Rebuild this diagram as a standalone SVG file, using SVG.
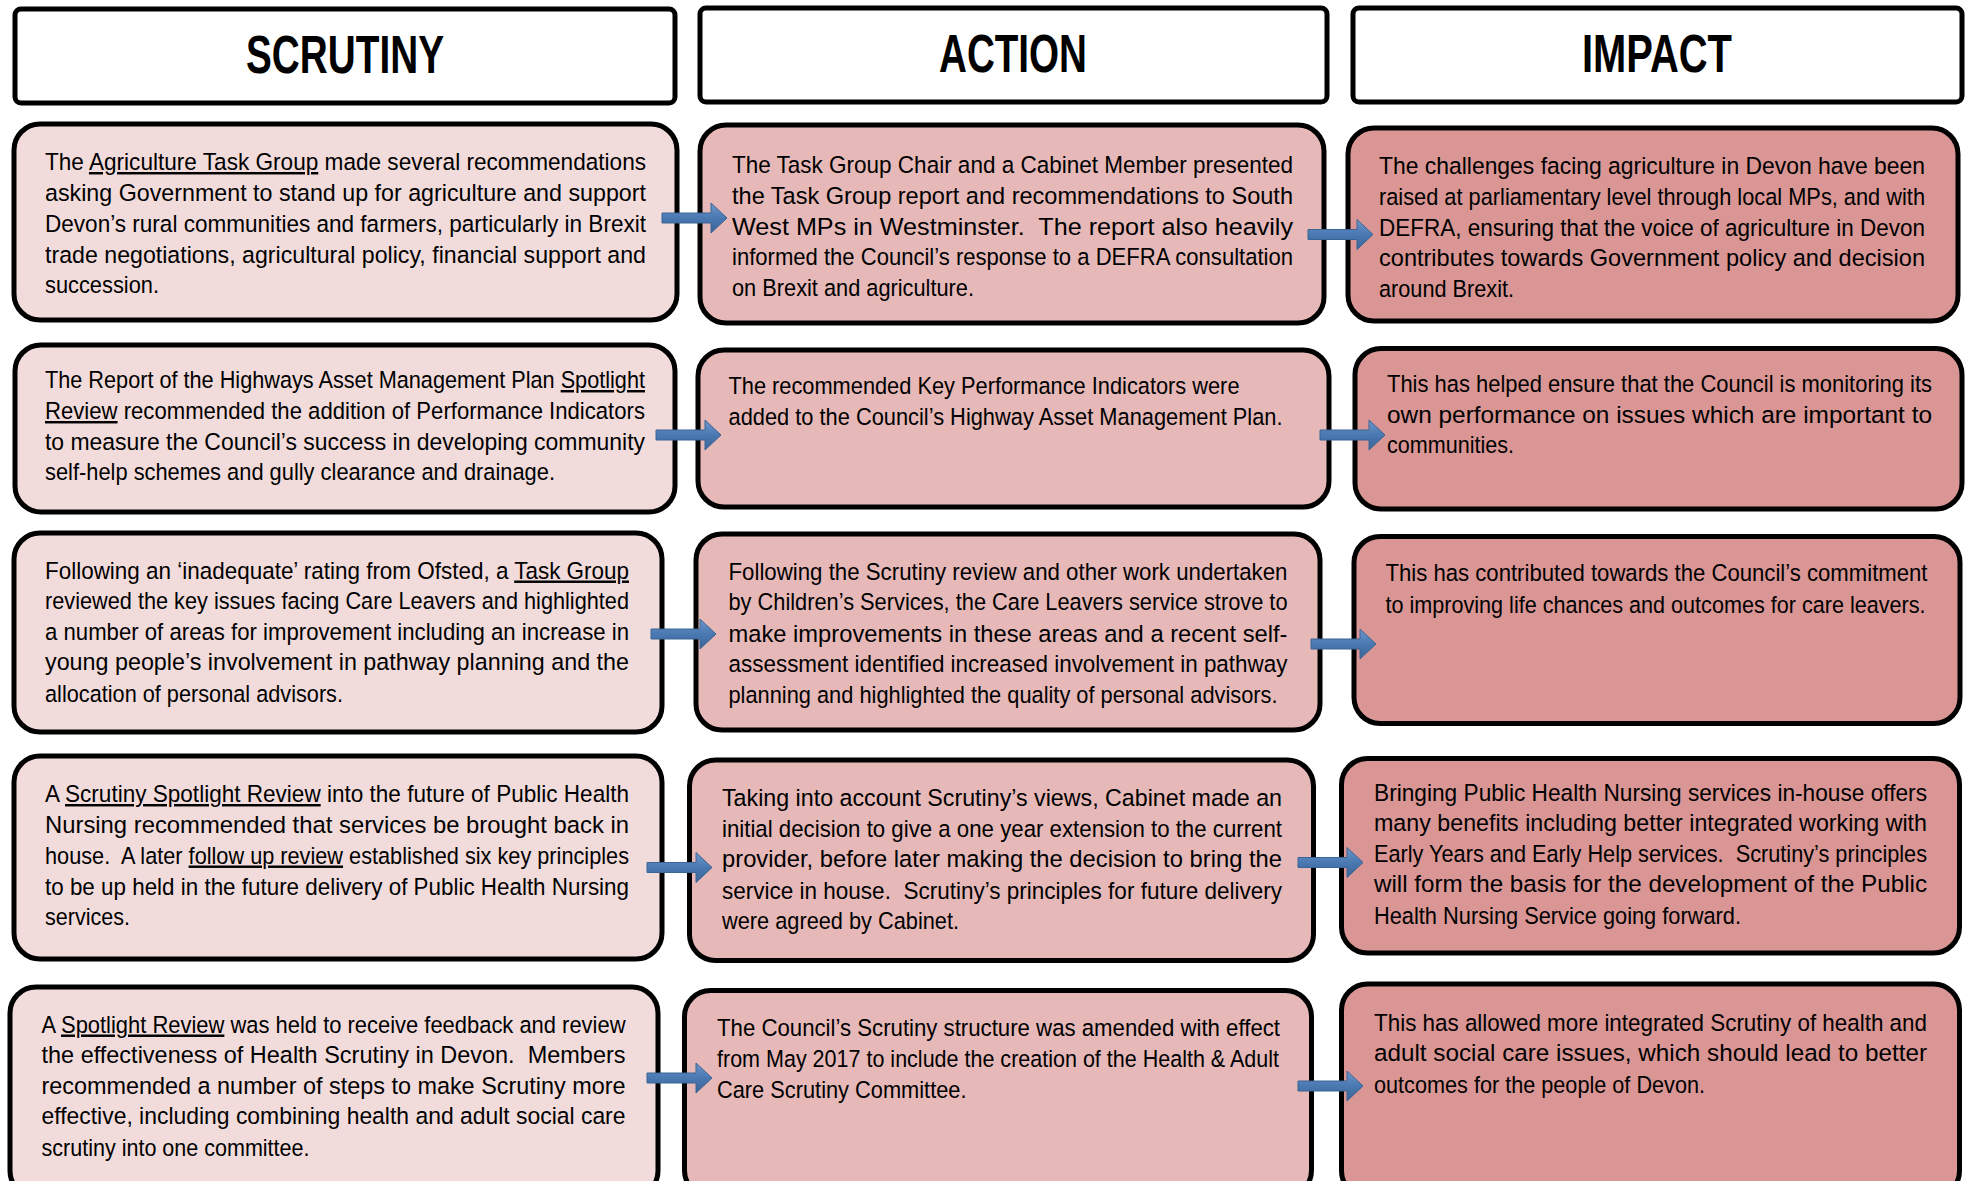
<svg xmlns="http://www.w3.org/2000/svg" width="1966" height="1181" viewBox="0 0 1966 1181">
<style>
.hdr{fill:#ffffff;stroke:#000;stroke-width:5}
.ht{font-family:"Liberation Sans Narrow","Arial Narrow","Liberation Sans",Arial,sans-serif;font-weight:bold;font-size:53px;fill:#000;text-anchor:middle}
.box{stroke:#000;stroke-width:5}
.c1{fill:#f2dcdb}
.c2{fill:#e6b9b8}
.c3{fill:#d99694}
.t{font-family:"Liberation Sans Narrow","Arial Narrow","Liberation Sans",Arial,sans-serif;font-size:24.5px;fill:#000}
.u{text-decoration:underline}
.arr{fill:url(#ag);stroke:#3a6494;stroke-width:1}
</style>
<defs>
<linearGradient id="ag" x1="0" y1="0" x2="0" y2="1">
<stop offset="0" stop-color="#6f97cc"/>
<stop offset="0.5" stop-color="#4a78b1"/>
<stop offset="1" stop-color="#3b6598"/>
</linearGradient>
<path id="arrow" d="M0,-5 H49 V-15 L65,0 L49,15 V5 H0 Z"/>
</defs>

<g id="header-scrutiny">
<rect class="hdr" x="15" y="9" width="660" height="94" rx="6"/>
<text class="ht" x="345" y="72.5" textLength="198" lengthAdjust="spacingAndGlyphs">SCRUTINY</text>
</g>
<g id="header-action">
<rect class="hdr" x="700" y="8" width="627" height="94" rx="6"/>
<text class="ht" x="1013" y="71.5" textLength="148" lengthAdjust="spacingAndGlyphs">ACTION</text>
</g>
<g id="header-impact">
<rect class="hdr" x="1353" y="8" width="609" height="94" rx="6"/>
<text class="ht" x="1657" y="71.5" textLength="150" lengthAdjust="spacingAndGlyphs">IMPACT</text>
</g>

<!-- Row 1 -->
<g id="scrutiny-1">
<rect class="box c1" x="14" y="124" width="663" height="196" rx="26"/>
<text class="t" x="45" y="170" textLength="601" lengthAdjust="spacingAndGlyphs">The <tspan class="u">Agriculture Task Group</tspan> made several recommendations</text>
<text class="t" x="45" y="201" textLength="601" lengthAdjust="spacingAndGlyphs">asking Government to stand up for agriculture and support</text>
<text class="t" x="45" y="232" textLength="601" lengthAdjust="spacingAndGlyphs">Devon’s rural communities and farmers, particularly in Brexit</text>
<text class="t" x="45" y="262.5" textLength="601" lengthAdjust="spacingAndGlyphs">trade negotiations, agricultural policy, financial support and</text>
<text class="t" x="45" y="293" textLength="114" lengthAdjust="spacingAndGlyphs">succession.</text>
</g>
<g id="action-1">
<rect class="box c2" x="700" y="125" width="624" height="198" rx="26"/>
<text class="t" x="732" y="173" textLength="561" lengthAdjust="spacingAndGlyphs">The Task Group Chair and a Cabinet Member presented</text>
<text class="t" x="732" y="203.5" textLength="561" lengthAdjust="spacingAndGlyphs">the Task Group report and recommendations to South</text>
<text class="t" x="732" y="234.5" textLength="561" lengthAdjust="spacingAndGlyphs">West MPs in Westminster.&#160; The report also heavily</text>
<text class="t" x="732" y="265" textLength="561" lengthAdjust="spacingAndGlyphs">informed the Council’s response to a DEFRA consultation</text>
<text class="t" x="732" y="295.5" textLength="242" lengthAdjust="spacingAndGlyphs">on Brexit and agriculture.</text>
</g>
<g id="impact-1">
<rect class="box c3" x="1348" y="128" width="610" height="193" rx="26"/>
<text class="t" x="1379" y="173.5" textLength="546" lengthAdjust="spacingAndGlyphs">The challenges facing agriculture in Devon have been</text>
<text class="t" x="1379" y="204.5" textLength="546" lengthAdjust="spacingAndGlyphs">raised at parliamentary level through local MPs, and with</text>
<text class="t" x="1379" y="235.5" textLength="546" lengthAdjust="spacingAndGlyphs">DEFRA, ensuring that the voice of agriculture in Devon</text>
<text class="t" x="1379" y="266" textLength="546" lengthAdjust="spacingAndGlyphs">contributes towards Government policy and decision</text>
<text class="t" x="1379" y="297" textLength="135" lengthAdjust="spacingAndGlyphs">around Brexit.</text>
</g>

<!-- Row 2 -->
<g id="scrutiny-2">
<rect class="box c1" x="15" y="345" width="660" height="167" rx="26"/>
<text class="t" x="45" y="388" textLength="600" lengthAdjust="spacingAndGlyphs">The Report of the Highways Asset Management Plan <tspan class="u">Spotlight</tspan></text>
<text class="t" x="45" y="419" textLength="600" lengthAdjust="spacingAndGlyphs"><tspan class="u">Review</tspan> recommended the addition of Performance Indicators</text>
<text class="t" x="45" y="449.5" textLength="600" lengthAdjust="spacingAndGlyphs">to measure the Council’s success in developing community</text>
<text class="t" x="45" y="480" textLength="510" lengthAdjust="spacingAndGlyphs">self-help schemes and gully clearance and drainage.</text>
</g>
<g id="action-2">
<rect class="box c2" x="698" y="350" width="631" height="157" rx="26"/>
<text class="t" x="728.5" y="394" textLength="511" lengthAdjust="spacingAndGlyphs">The recommended Key Performance Indicators were</text>
<text class="t" x="728.5" y="424.5" textLength="554" lengthAdjust="spacingAndGlyphs">added to the Council’s Highway Asset Management Plan.</text>
</g>
<g id="impact-2">
<rect class="box c3" x="1355" y="348.5" width="607" height="160.5" rx="26"/>
<text class="t" x="1387" y="392" textLength="545" lengthAdjust="spacingAndGlyphs">This has helped ensure that the Council is monitoring its</text>
<text class="t" x="1387" y="423" textLength="545" lengthAdjust="spacingAndGlyphs">own performance on issues which are important to</text>
<text class="t" x="1387" y="453" textLength="127" lengthAdjust="spacingAndGlyphs">communities.</text>
</g>

<!-- Row 3 -->
<g id="scrutiny-3">
<rect class="box c1" x="14" y="533" width="648" height="199" rx="26"/>
<text class="t" x="45" y="578.5" textLength="584" lengthAdjust="spacingAndGlyphs">Following an ‘inadequate’ rating from Ofsted, a <tspan class="u">Task Group</tspan></text>
<text class="t" x="45" y="609" textLength="584" lengthAdjust="spacingAndGlyphs">reviewed the key issues facing Care Leavers and highlighted</text>
<text class="t" x="45" y="640" textLength="584" lengthAdjust="spacingAndGlyphs">a number of areas for improvement including an increase in</text>
<text class="t" x="45" y="670" textLength="584" lengthAdjust="spacingAndGlyphs">young people’s involvement in pathway planning and the</text>
<text class="t" x="45" y="701.5" textLength="298" lengthAdjust="spacingAndGlyphs">allocation of personal advisors.</text>
</g>
<g id="action-3">
<rect class="box c2" x="696" y="534" width="624" height="196" rx="26"/>
<text class="t" x="728.5" y="580" textLength="559" lengthAdjust="spacingAndGlyphs">Following the Scrutiny review and other work undertaken</text>
<text class="t" x="728.5" y="610" textLength="559" lengthAdjust="spacingAndGlyphs">by Children’s Services, the Care Leavers service strove to</text>
<text class="t" x="728.5" y="641.5" textLength="559" lengthAdjust="spacingAndGlyphs">make improvements in these areas and a recent self-</text>
<text class="t" x="728.5" y="671.5" textLength="559" lengthAdjust="spacingAndGlyphs">assessment identified increased involvement in pathway</text>
<text class="t" x="728.5" y="703" textLength="549" lengthAdjust="spacingAndGlyphs">planning and highlighted the quality of personal advisors.</text>
</g>
<g id="impact-3">
<rect class="box c3" x="1354" y="536.5" width="606" height="187" rx="26"/>
<text class="t" x="1385.5" y="581" textLength="542" lengthAdjust="spacingAndGlyphs">This has contributed towards the Council’s commitment</text>
<text class="t" x="1385.5" y="612.5" textLength="540" lengthAdjust="spacingAndGlyphs">to improving life chances and outcomes for care leavers.</text>
</g>

<!-- Row 4 -->
<g id="scrutiny-4">
<rect class="box c1" x="14" y="756" width="648" height="203" rx="26"/>
<text class="t" x="45" y="802" textLength="584" lengthAdjust="spacingAndGlyphs">A <tspan class="u">Scrutiny Spotlight Review</tspan> into the future of Public Health</text>
<text class="t" x="45" y="833" textLength="584" lengthAdjust="spacingAndGlyphs">Nursing recommended that services be brought back in</text>
<text class="t" x="45" y="863.5" textLength="584" lengthAdjust="spacingAndGlyphs">house.&#160; A later <tspan class="u">follow up review</tspan> established six key principles</text>
<text class="t" x="45" y="894.5" textLength="584" lengthAdjust="spacingAndGlyphs">to be up held in the future delivery of Public Health Nursing</text>
<text class="t" x="45" y="925" textLength="85" lengthAdjust="spacingAndGlyphs">services.</text>
</g>
<g id="action-4">
<rect class="box c2" x="689.5" y="760" width="624" height="200.5" rx="26"/>
<text class="t" x="722" y="805.5" textLength="560" lengthAdjust="spacingAndGlyphs">Taking into account Scrutiny’s views, Cabinet made an</text>
<text class="t" x="722" y="837" textLength="560" lengthAdjust="spacingAndGlyphs">initial decision to give a one year extension to the current</text>
<text class="t" x="722" y="867" textLength="560" lengthAdjust="spacingAndGlyphs">provider, before later making the decision to bring the</text>
<text class="t" x="722" y="898.5" textLength="560" lengthAdjust="spacingAndGlyphs">service in house.&#160; Scrutiny’s principles for future delivery</text>
<text class="t" x="722" y="928.5" textLength="237" lengthAdjust="spacingAndGlyphs">were agreed by Cabinet.</text>
</g>
<g id="impact-4">
<rect class="box c3" x="1341.5" y="758.5" width="618" height="194.5" rx="26"/>
<text class="t" x="1374" y="800.5" textLength="553" lengthAdjust="spacingAndGlyphs">Bringing Public Health Nursing services in-house offers</text>
<text class="t" x="1374" y="831" textLength="553" lengthAdjust="spacingAndGlyphs">many benefits including better integrated working with</text>
<text class="t" x="1374" y="862" textLength="553" lengthAdjust="spacingAndGlyphs">Early Years and Early Help services.&#160; Scrutiny’s principles</text>
<text class="t" x="1374" y="892" textLength="553" lengthAdjust="spacingAndGlyphs">will form the basis for the development of the Public</text>
<text class="t" x="1374" y="923.5" textLength="367" lengthAdjust="spacingAndGlyphs">Health Nursing Service going forward.</text>
</g>

<!-- Row 5 -->
<g id="scrutiny-5">
<rect class="box c1" x="10" y="987" width="648" height="210" rx="26"/>
<text class="t" x="41.5" y="1032.5" textLength="584" lengthAdjust="spacingAndGlyphs">A <tspan class="u">Spotlight Review</tspan> was held to receive feedback and review</text>
<text class="t" x="41.5" y="1062.5" textLength="584" lengthAdjust="spacingAndGlyphs">the effectiveness of Health Scrutiny in Devon.&#160; Members</text>
<text class="t" x="41.5" y="1094" textLength="584" lengthAdjust="spacingAndGlyphs">recommended a number of steps to make Scrutiny more</text>
<text class="t" x="41.5" y="1124" textLength="584" lengthAdjust="spacingAndGlyphs">effective, including combining health and adult social care</text>
<text class="t" x="41.5" y="1155.5" textLength="268" lengthAdjust="spacingAndGlyphs">scrutiny into one committee.</text>
</g>
<g id="action-5">
<rect class="box c2" x="684.5" y="990.5" width="627" height="206" rx="26"/>
<text class="t" x="717" y="1036" textLength="563" lengthAdjust="spacingAndGlyphs">The Council’s Scrutiny structure was amended with effect</text>
<text class="t" x="717" y="1066.5" textLength="562" lengthAdjust="spacingAndGlyphs">from May 2017 to include the creation of the Health &amp; Adult</text>
<text class="t" x="717" y="1098" textLength="249.5" lengthAdjust="spacingAndGlyphs">Care Scrutiny Committee.</text>
</g>
<g id="impact-5">
<rect class="box c3" x="1341.5" y="984" width="618" height="213" rx="26"/>
<text class="t" x="1374" y="1031" textLength="553" lengthAdjust="spacingAndGlyphs">This has allowed more integrated Scrutiny of health and</text>
<text class="t" x="1374" y="1061" textLength="553" lengthAdjust="spacingAndGlyphs">adult social care issues, which should lead to better</text>
<text class="t" x="1374" y="1092.5" textLength="331" lengthAdjust="spacingAndGlyphs">outcomes for the people of Devon.</text>
</g>

<g id="connectors">
<use href="#arrow" class="arr" transform="translate(662,218)"/>
<use href="#arrow" class="arr" transform="translate(1308,234.5)"/>
<use href="#arrow" class="arr" transform="translate(656,435)"/>
<use href="#arrow" class="arr" transform="translate(1320,435)"/>
<use href="#arrow" class="arr" transform="translate(651,634)"/>
<use href="#arrow" class="arr" transform="translate(1311,644)"/>
<use href="#arrow" class="arr" transform="translate(647,867.5)"/>
<use href="#arrow" class="arr" transform="translate(1298,862.5)"/>
<use href="#arrow" class="arr" transform="translate(647,1078)"/>
<use href="#arrow" class="arr" transform="translate(1298,1086)"/>
</g>
</svg>
